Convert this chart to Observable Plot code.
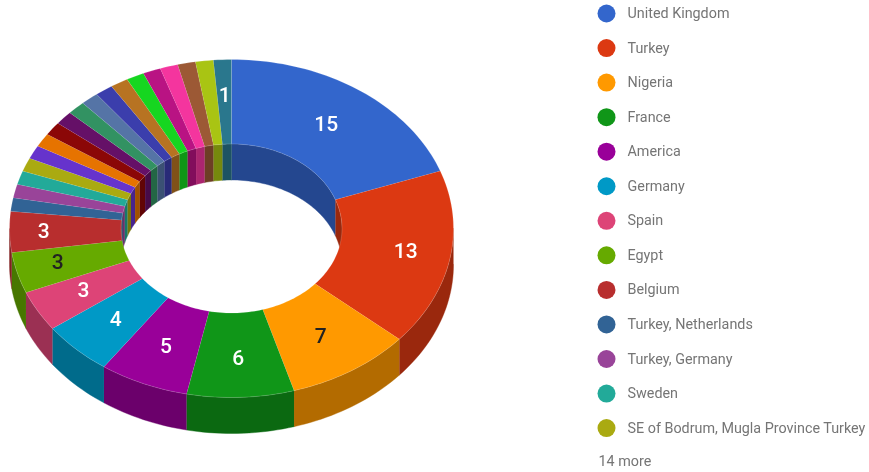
<!DOCTYPE html>
<html>
<head>
<meta charset="utf-8">
<style>html,body{margin:0;padding:0;background:#fff}svg{display:block;filter:blur(.4px)}</style>
<script src="https://cdn.jsdelivr.net/npm/d3@7"></script>
<script src="https://cdn.jsdelivr.net/npm/@observablehq/plot@0.6"></script>
</head>
<body>
<script>
const legendNames = ["United Kingdom","Turkey","Nigeria","France","America","Germany","Spain","Egypt","Belgium","Turkey, Netherlands","Turkey, Germany","Sweden","SE of Bodrum, Mugla Province Turkey"];
const moreLabel = "14 more";
const values = [15,13,7,6,5,4,3,3,3,1,1,1,1,1,1,1,1,1,1,1,1,1,1,1,1,1,1];
const colors = ["#3366cc","#dc3912","#ff9900","#109618","#990099","#0099c6","#dd4477","#66aa00","#b82e2e","#316395","#994499","#22aa99","#aaaa11","#6633cc","#e67300","#8b0707","#651067","#329262","#5574a6","#3b3eac","#b77322","#16d620","#b91383","#f4359e","#9c5935","#a9c413","#2a778d"];
const sliceLabels = ["15","13","7","6","5","4","3","3","3","","","","","","","","","","","","","","","","","","1"];
const labelColors = ["#fff","#fff","#222","#fff","#fff","#fff","#fff","#222","#fff","","","","","","","","","","","","","","","","","","#fff"];

const W = 869, H = 472;
const cx = 231, cy = 228, Rx = 222, Ry = 169, rx = 110.5, ry = 84.5, depth = 36;
const total = d3.sum(values);
let acc = 0;
const slices = values.map((v,i) => {
  const a0 = acc / total * 360; acc += v;
  return {i, v, a0, a1: acc / total * 360, color: colors[i], label: sliceLabels[i], labelColor: labelColors[i]};
});
const rad = d => d * Math.PI / 180;
const pt = (a, ex, ey, dy = 0) => [cx + ex * Math.sin(rad(a)), cy - ey * Math.cos(rad(a)) + dy];
function arc(a0, a1, ex, ey, dy = 0) {
  const n = Math.max(1, Math.ceil(Math.abs(a1 - a0) / 1.5)), out = [];
  for (let k = 0; k <= n; k++) out.push(pt(a0 + (a1 - a0) * k / n, ex, ey, dy));
  return out;
}
function poly(id, color, pts) { return pts.map(p => ({id, color, x: p[0], y: p[1]})); }
const shade = c => { const o = d3.rgb(c); return d3.rgb(o.r * .7, o.g * .7, o.b * .7).formatHex(); };

const outerWalls = [], innerWalls = [], tops = [];
for (const s of slices) {
  const f0 = Math.max(s.a0, 90), f1 = Math.min(s.a1, 270);
  if (f1 > f0) outerWalls.push(...poly("o" + s.i, shade(s.color), [...arc(f0, f1, Rx, Ry), ...arc(f1, f0, Rx, Ry, depth)]));
  for (const [lo, hi] of [[0, 90], [270, 360]]) {
    const b0 = Math.max(s.a0, lo), b1 = Math.min(s.a1, hi);
    if (b1 > b0) innerWalls.push(...poly("i" + s.i + lo, shade(s.color), [...arc(b0, b1, rx, ry), ...arc(b1, b0, rx, ry, depth)]));
  }
  tops.push(...poly("t" + s.i, s.color, [...arc(s.a0, s.a1, Rx, Ry), ...arc(s.a1, s.a0, rx, ry)]));
}
// Label anchor: mid-ring ellipse, pushed outward near the ring's horizontal and vertical extremes
const labelled = slices.filter(s => s.label).map(s => {
  const a = rad((s.a0 + s.a1) / 2), sn = Math.sin(a), cs = Math.cos(a);
  const lx = 165 + (sn > 0 ? 15 : 23) * Math.abs(sn) ** 12;
  const ly = 127 + (cs > 0 ? 6 : 3) * Math.abs(cs) ** 10;
  return {x: cx + lx * sn, y: cy - ly * cs, label: s.label, fill: s.labelColor};
});
const legend = legendNames.map((name, i) => ({name, color: colors[i], y: 13 + i * 34.55}));

const face = "Roboto, sans-serif";
const wallOpts = {x: "x", y: "y", z: "id", fill: "color", stroke: "color", strokeWidth: .4};
const chart = Plot.plot({
  width: W, height: H, margin: 0,
  x: {domain: [0, W], range: [0, W], axis: null},
  y: {domain: [0, H], range: [0, H], axis: null},
  marks: [
    Plot.line(outerWalls, wallOpts),
    Plot.line(innerWalls, wallOpts),
    Plot.line(tops, {x: "x", y: "y", z: "id", fill: "color", stroke: "#fff", strokeOpacity: .28, strokeWidth: .6}),
    Plot.text(labelled, {x: "x", y: "y", text: "label", fill: "fill", fontSize: 21, fontWeight: 500, fontFamily: face}),
    Plot.dot(legend, {x: () => 606, y: "y", r: 9, fill: "color", stroke: null}),
    Plot.text(legend, {x: () => 627, y: "y", text: "name", textAnchor: "start", fill: "#757575", fontSize: 14.35, fontFamily: face}),
    Plot.text([moreLabel], {x: () => 598, y: () => 461, text: d => d, textAnchor: "start", fill: "#757575", fontSize: 14.35, fontFamily: face})
  ]
});
document.body.appendChild(chart);
</script>
</body>
</html>
